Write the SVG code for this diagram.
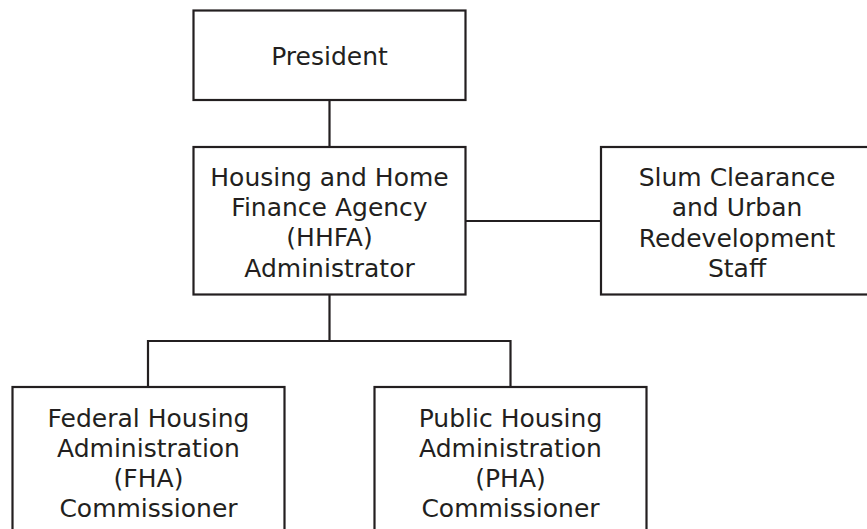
<svg xmlns="http://www.w3.org/2000/svg" width="867" height="529" viewBox="0 0 867 529">
<style>
.box{fill:#fff;stroke:#231f20;stroke-width:2.2}
.c{fill:none;stroke:#231f20;stroke-width:2.2}
text{font-family:"DejaVu Sans","Liberation Sans",sans-serif;font-size:25px;fill:#231f20;text-anchor:middle}
</style>
<rect width="867" height="529" fill="#fff"/>
<g id="connectors">
<line class="c" x1="329.5" y1="100" x2="329.5" y2="147"/>
<line class="c" x1="466" y1="221" x2="601" y2="221"/>
<polyline class="c" points="329.5,294 329.5,341"/>
<polyline class="c" points="148,387 148,341 510.5,341 510.5,387"/>
</g>
<g id="president">
<rect class="box" x="193.5" y="10.5" width="272" height="89.5"/>
<text x="329.5" y="65">President</text>
</g>
<g id="hhfa">
<rect class="box" x="193.5" y="147" width="272" height="147.5"/>
<text x="329.5" y="185.5">Housing and Home</text>
<text x="329.5" y="216">Finance Agency</text>
<text x="329.5" y="246">(HHFA)</text>
<text x="329.5" y="276.5">Administrator</text>
</g>
<g id="slum">
<rect class="box" x="601" y="147" width="272" height="147.5"/>
<text x="737" y="185.5">Slum Clearance</text>
<text x="737" y="216">and Urban</text>
<text x="737" y="246.5">Redevelopment</text>
<text x="737" y="276.5">Staff</text>
</g>
<g id="fha">
<rect class="box" x="12.5" y="387" width="272" height="160"/>
<text x="148.5" y="426.5">Federal Housing</text>
<text x="148.5" y="456.5">Administration</text>
<text x="148.5" y="486.5">(FHA)</text>
<text x="148.5" y="516.5">Commissioner</text>
</g>
<g id="pha">
<rect class="box" x="374.5" y="387" width="272" height="160"/>
<text x="510.5" y="426.5">Public Housing</text>
<text x="510.5" y="456.5">Administration</text>
<text x="510.5" y="486.5">(PHA)</text>
<text x="510.5" y="516.5">Commissioner</text>
</g>
</svg>
